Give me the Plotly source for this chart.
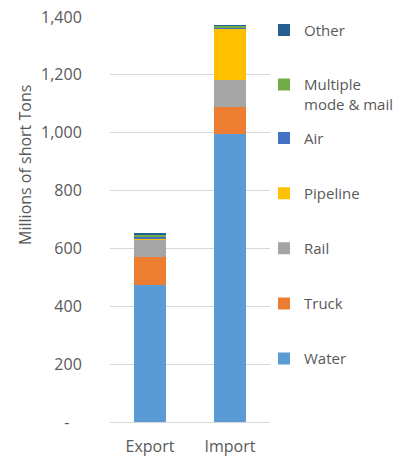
import plotly.graph_objects as go

categories = ["Export", "Import"]
modes = ["Water", "Truck", "Rail", "Pipeline", "Air", "Multiple<br>mode & mail", "Other"]
water = [473, 997]
truck = [96, 93]
rail = [61, 93]
pipeline = [5, 177]
air = [3, 4]
multiple = [8, 6]
other = [7, 1]
series_values = [water, truck, rail, pipeline, air, multiple, other]
colors = ["#5B9BD5", "#ED7D31", "#A5A5A5", "#FFC000", "#4472C4", "#70AD47", "#255E91"]
legend_ids = ["legend2", "legend2", "legend2", "legend2", "legend2", "legend", "legend"]
legend_ranks = [7, 6, 5, 4, 3, 2, 1]

tick_vals = [0, 200, 400, 600, 800, 1000, 1200, 1400]
tick_text = ["-\u00a0\u00a0\u00a0", "200", "400", "600", "800", "1,000", "1,200", "1,400"]

FONT = "Open Sans"
GRAY = "#595959"

fig = go.Figure()
for name, vals, col, lg, rk in zip(modes, series_values, colors, legend_ids, legend_ranks):
    fig.add_trace(go.Bar(
        x=categories, y=vals, name=name, marker=dict(color=col, line=dict(width=0)),
        legendgroup=name, legend=lg, legendrank=rk,
    ))

fig.update_layout(
    width=402, height=458,
    barmode="stack", bargap=0.6,
    margin=dict(l=110, r=132, t=17, b=36, autoexpand=False),
    paper_bgcolor="white", plot_bgcolor="white",
    font=dict(family=FONT, size=16, color=GRAY),
    showlegend=True,
    legend=dict(x=(264 - 110) / 160, xanchor="left", y=1.0 + (17.3 - 14) / 404.4, yanchor="top",
                traceorder="grouped", tracegroupgap=32, valign="top",
                font=dict(family=FONT, size=15, color=GRAY), bgcolor="rgba(0,0,0,0)"),
    legend2=dict(x=(264 - 110) / 160, xanchor="left", y=(421.7 - 122) / 404.4, yanchor="top",
                 traceorder="grouped", tracegroupgap=32.6,
                 font=dict(family=FONT, size=15, color=GRAY), bgcolor="rgba(0,0,0,0)"),
    xaxis=dict(showgrid=False, showline=True, linecolor="#D9D9D9", linewidth=1,
               ticks="outside", ticklen=10, tickcolor="rgba(0,0,0,0)",
               tickfont=dict(family=FONT, size=16, color=GRAY)),
    yaxis=dict(range=[0, 1400], tickvals=tick_vals, ticktext=tick_text,
               showgrid=True, gridcolor="#D9D9D9", gridwidth=1, zeroline=False,
               showline=False, ticks="outside", ticklen=24, tickcolor="rgba(0,0,0,0)",
               tickfont=dict(family=FONT, size=16, color=GRAY)),
    annotations=[dict(text="Millions of short Tons", xref="paper", yref="paper",
                      x=(25 - 110) / 160, y=(421.7 - 165) / 404.4, textangle=-90,
                      showarrow=False, font=dict(family=FONT, size=16, color=GRAY),
                      xanchor="center", yanchor="middle")],
)

fig.write_html("out.html", config={"displayModeBar": False},
               post_script="document.body.style.margin='0';document.body.style.padding='0';")
